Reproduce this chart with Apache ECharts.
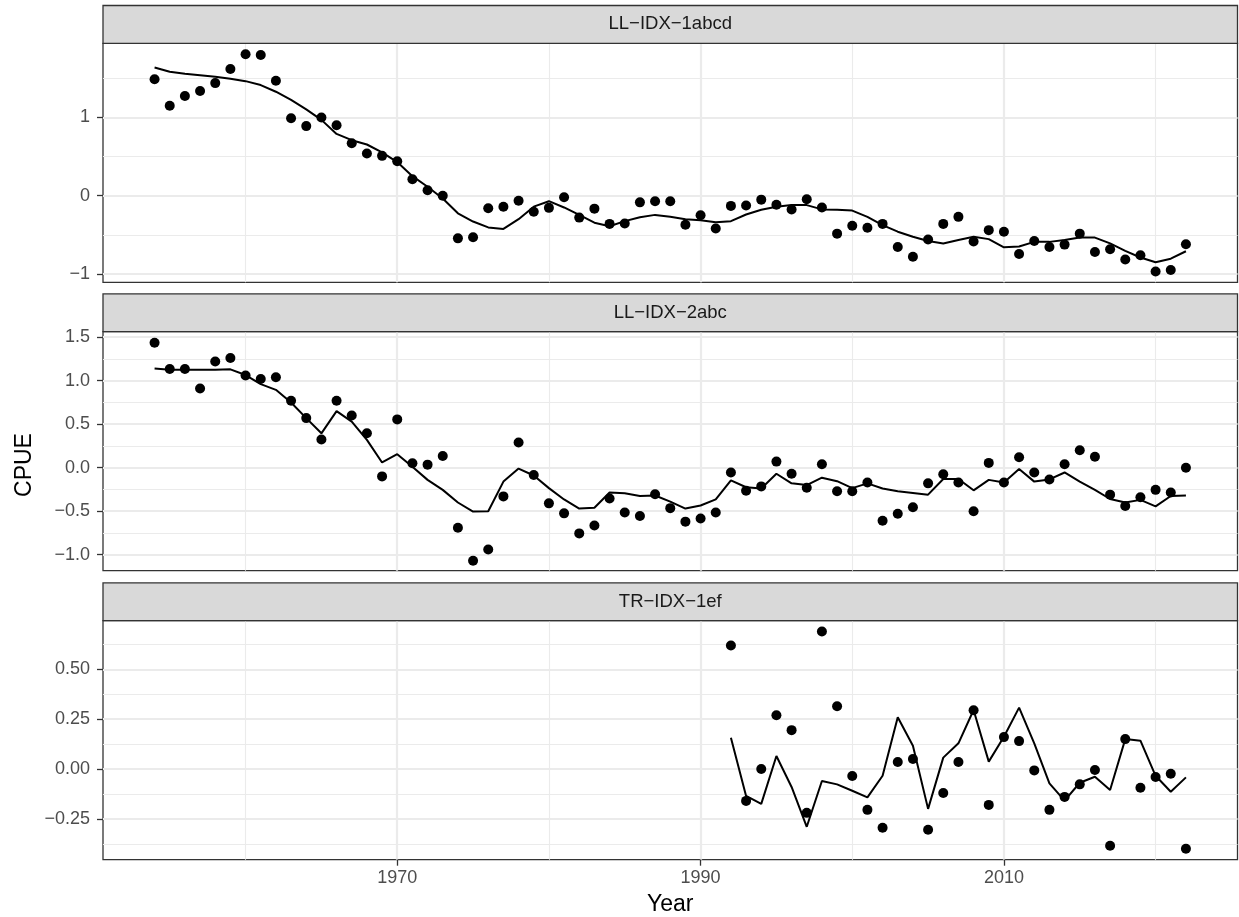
<!DOCTYPE html>
<html>
<head>
<meta charset="utf-8">
<script src="https://cdn.jsdelivr.net/npm/echarts@6/dist/echarts.min.js"></script>
<style>html,body{margin:0;padding:0;background:#fff}#c{width:1239px;height:917px}</style>
</head>
<body>
<div id="c"></div>
<script>
// ---------------- data ----------------
const yearsLL = [1954,1955,1956,1957,1958,1959,1960,1961,1962,1963,
  1964,1965,1966,1967,1968,1969,1970,1971,1972,1973,
  1974,1975,1976,1977,1978,1979,1980,1981,1982,1983,
  1984,1985,1986,1987,1988,1989,1990,1991,1992,1993,
  1994,1995,1996,1997,1998,1999,2000,2001,2002,2003,
  2004,2005,2006,2007,2008,2009,2010,2011,2012,2013,
  2014,2015,2016,2017,2018,2019,2020,2021,2022];
const yearsTR = [1992,1993,1994,1995,1996,1997,1998,1999,2000,2001,
  2002,2003,2004,2005,2006,2007,2008,2009,2010,2011,
  2012,2013,2014,2015,2016,2017,2018,2019,2020,2021,2022];

const obs1 = [1.49,1.15,1.275,1.34,1.44,1.62,1.81,1.80,1.47,0.99,
  0.89,1.00,0.90,0.67,0.54,0.51,0.44,0.21,0.07,0.00,
  -0.545,-0.53,-0.16,-0.14,-0.065,-0.205,-0.155,-0.02,-0.28,-0.165,
  -0.36,-0.355,-0.085,-0.07,-0.07,-0.37,-0.25,-0.42,-0.13,-0.125,
  -0.05,-0.115,-0.175,-0.045,-0.15,-0.485,-0.385,-0.41,-0.36,-0.655,
  -0.78,-0.56,-0.36,-0.27,-0.585,-0.44,-0.46,-0.745,-0.58,-0.655,
  -0.625,-0.485,-0.72,-0.685,-0.815,-0.76,-0.97,-0.95,-0.62];
const fit1 = [1.64,1.585,1.56,1.54,1.52,1.495,1.465,1.415,1.33,1.225,
  1.105,0.97,0.79,0.71,0.655,0.555,0.43,0.25,0.115,-0.035,
  -0.225,-0.33,-0.405,-0.425,-0.30,-0.14,-0.07,-0.15,-0.245,-0.345,
  -0.39,-0.325,-0.275,-0.245,-0.27,-0.30,-0.315,-0.34,-0.325,-0.24,
  -0.18,-0.14,-0.12,-0.12,-0.175,-0.18,-0.19,-0.27,-0.375,-0.46,
  -0.525,-0.58,-0.61,-0.565,-0.525,-0.555,-0.66,-0.65,-0.59,-0.59,
  -0.565,-0.535,-0.535,-0.61,-0.705,-0.79,-0.85,-0.805,-0.71];

const obs2 = [1.437,1.135,1.135,0.91,1.22,1.26,1.06,1.02,1.04,0.77,
  0.57,0.325,0.77,0.60,0.395,-0.10,0.555,0.05,0.035,0.135,
  -0.69,-1.07,-0.94,-0.33,0.29,-0.085,-0.41,-0.525,-0.755,-0.665,
  -0.355,-0.515,-0.555,-0.305,-0.465,-0.62,-0.585,-0.515,-0.055,-0.265,
  -0.215,0.07,-0.07,-0.23,0.04,-0.27,-0.27,-0.17,-0.61,-0.53,
  -0.455,-0.18,-0.075,-0.17,-0.50,0.055,-0.17,0.12,-0.055,-0.135,
  0.04,0.20,0.125,-0.31,-0.44,-0.34,-0.255,-0.285,0.00];
const fit2 = [1.14,1.125,1.125,1.125,1.125,1.13,1.065,0.96,0.895,0.75,
  0.57,0.395,0.65,0.53,0.32,0.06,0.155,0.01,-0.14,-0.255,
  -0.40,-0.505,-0.50,-0.16,-0.01,-0.09,-0.235,-0.365,-0.47,-0.46,
  -0.285,-0.295,-0.325,-0.32,-0.39,-0.47,-0.435,-0.365,-0.145,-0.225,
  -0.24,-0.07,-0.18,-0.20,-0.115,-0.155,-0.235,-0.18,-0.24,-0.27,
  -0.29,-0.31,-0.13,-0.13,-0.26,-0.14,-0.17,-0.015,-0.16,-0.135,
  -0.055,-0.16,-0.255,-0.36,-0.40,-0.37,-0.445,-0.325,-0.32];

const obs3 = [0.62,-0.16,0.00,0.27,0.195,-0.22,0.69,0.315,-0.035,-0.205,
  -0.295,0.035,0.05,-0.305,-0.12,0.035,0.295,-0.18,0.16,0.14,
  -0.007,-0.205,-0.14,-0.077,-0.005,-0.385,0.15,-0.094,-0.04,-0.024,-0.40];
const fit3 = [0.157,-0.135,-0.175,0.065,-0.09,-0.29,-0.06,-0.077,-0.109,-0.142,
  -0.034,0.26,0.117,-0.20,0.057,0.129,0.296,0.037,0.162,0.308,
  0.129,-0.072,-0.159,-0.069,-0.039,-0.105,0.15,0.142,-0.034,-0.114,-0.042];

const panelNames = ['LL\u2212IDX\u22121abcd', 'LL\u2212IDX\u22122abc', 'TR\u2212IDX\u22121ef'];

const xMajorTicks = [1970, 1990, 2010];
const xMajorLabels = ['1970', '1990', '2010'];
const xMinorTicks = [1960, 1980, 2000, 2020];

const yMajor1 = [-1, 0, 1];
const yLabels1 = ['\u22121', '0', '1'];
const yMinor1 = [-0.5, 0.5, 1.5];

const yMajor2 = [-1, -0.5, 0, 0.5, 1, 1.5];
const yLabels2 = ['\u22121.0', '\u22120.5', '0.0', '0.5', '1.0', '1.5'];
const yMinor2 = [-0.75, -0.25, 0.25, 0.75, 1.25];

const yMajor3 = [-0.25, 0, 0.25, 0.5];
const yLabels3 = ['\u22120.25', '0.00', '0.25', '0.50'];
const yMinor3 = [-0.375, -0.125, 0.125, 0.375, 0.625];

// ---------------- layout ----------------
const FONT = '"Liberation Sans", Arial, Helvetica, sans-serif';
const L = 103, W = 1134.5, H = 239, STRIP_H = 37.8;
const panelTops = [43.3, 331.7, 620.7];
const xRange = [1950.6, 2025.4];
const yRanges = [[-1.107, 1.949], [-1.184, 1.563], [-0.455, 0.744]];

const panels = [
  {years: yearsLL, obs: obs1, fit: fit1, major: yMajor1, labels: yLabels1, minor: yMinor1},
  {years: yearsLL, obs: obs2, fit: fit2, major: yMajor2, labels: yLabels2, minor: yMinor2},
  {years: yearsTR, obs: obs3, fit: fit3, major: yMajor3, labels: yLabels3, minor: yMinor3}
];

function labelFor(ticks, labels) {
  return function (v) {
    for (let k = 0; k < ticks.length; k++) {
      if (Math.abs(ticks[k] - v) < 1e-6) return labels[k];
    }
    return '';
  };
}

const grids = [], xAxes = [], yAxes = [], series = [], graphics = [];
const MAJOR_W = 2.2, MINOR_W = 1.1, GRID_C = '#EBEBEB';

panels.forEach((p, i) => {
  const isBottom = i === panels.length - 1;
  grids.push({left: L, top: panelTops[i], width: W, height: H, show: true,
    borderColor: '#333333', borderWidth: 1.3, backgroundColor: '#FFFFFF', containLabel: false});

  // minor x
  xAxes.push({type: 'value', gridIndex: i, position: 'bottom', min: xRange[0], max: xRange[1],
    axisLine: {show: false, onZero: false}, axisTick: {show: false, customValues: xMinorTicks},
    axisLabel: {show: false, customValues: xMinorTicks},
    splitLine: {show: true, lineStyle: {color: GRID_C, width: MINOR_W}}});
  // major x
  xAxes.push({type: 'value', gridIndex: i, position: 'bottom', min: xRange[0], max: xRange[1],
    axisLine: {show: false, onZero: false},
    axisTick: {show: isBottom, customValues: xMajorTicks, length: 6, lineStyle: {color: '#333333', width: 1.3}},
    axisLabel: {show: isBottom, customValues: xMajorTicks, formatter: labelFor(xMajorTicks, xMajorLabels),
      margin: 9, color: '#4D4D4D', fontSize: 18, fontFamily: FONT},
    splitLine: {show: true, lineStyle: {color: GRID_C, width: MAJOR_W}}});

  // minor y
  yAxes.push({type: 'value', gridIndex: i, min: yRanges[i][0], max: yRanges[i][1],
    axisLine: {show: false, onZero: false}, axisTick: {show: false, customValues: p.minor},
    axisLabel: {show: false, customValues: p.minor},
    splitLine: {show: true, lineStyle: {color: GRID_C, width: MINOR_W}}});
  // major y
  yAxes.push({type: 'value', gridIndex: i, position: 'left', min: yRanges[i][0], max: yRanges[i][1],
    axisLine: {show: false, onZero: false},
    axisTick: {show: true, customValues: p.major, length: 6, lineStyle: {color: '#333333', width: 1.3}},
    axisLabel: {show: true, customValues: p.major, formatter: labelFor(p.major, p.labels),
      margin: 13, color: '#4D4D4D', fontSize: 18, fontFamily: FONT},
    splitLine: {show: true, lineStyle: {color: GRID_C, width: MAJOR_W}}});

  series.push({type: 'scatter', xAxisIndex: 2 * i + 1, yAxisIndex: 2 * i + 1,
    data: p.years.map((y, k) => [y, p.obs[k]]),
    symbol: 'circle', symbolSize: 10, itemStyle: {color: '#000000', opacity: 1}, silent: true, z: 3});
  series.push({type: 'line', xAxisIndex: 2 * i + 1, yAxisIndex: 2 * i + 1,
    data: p.years.map((y, k) => [y, p.fit[k]]),
    showSymbol: false, symbol: 'none', lineStyle: {color: '#000000', width: 2, opacity: 1}, silent: true, z: 4});

  // strip
  const st = panelTops[i] - STRIP_H;
  graphics.push({type: 'rect', shape: {x: L, y: st, width: W, height: STRIP_H},
    style: {fill: '#D9D9D9', stroke: '#333333', lineWidth: 1.3}, z: 10, silent: true});
  graphics.push({type: 'text', x: L + W / 2, y: st + STRIP_H / 2, z: 11, silent: true,
    style: {text: panelNames[i], fill: '#1A1A1A', font: '18.5px ' + FONT,
      align: 'center', verticalAlign: 'middle', textAlign: 'center', textVerticalAlign: 'middle'}});
});

graphics.push({type: 'text', x: L + W / 2, y: 905, z: 11, silent: true,
  style: {text: 'Year', fill: '#000000', font: '23px ' + FONT,
    align: 'center', verticalAlign: 'middle', textAlign: 'center', textVerticalAlign: 'middle'}});
graphics.push({type: 'text', x: 25, y: 465, rotation: Math.PI / 2, z: 11, silent: true,
  style: {text: 'CPUE', fill: '#000000', font: '23px ' + FONT,
    align: 'center', verticalAlign: 'middle', textAlign: 'center', textVerticalAlign: 'middle'}});

const chart = echarts.init(document.getElementById('c'), null, {renderer: 'canvas'});
chart.setOption({
  animation: false,
  backgroundColor: '#FFFFFF',
  grid: grids,
  xAxis: xAxes,
  yAxis: yAxes,
  series: series,
  graphic: graphics
});
</script>
</body>
</html>
